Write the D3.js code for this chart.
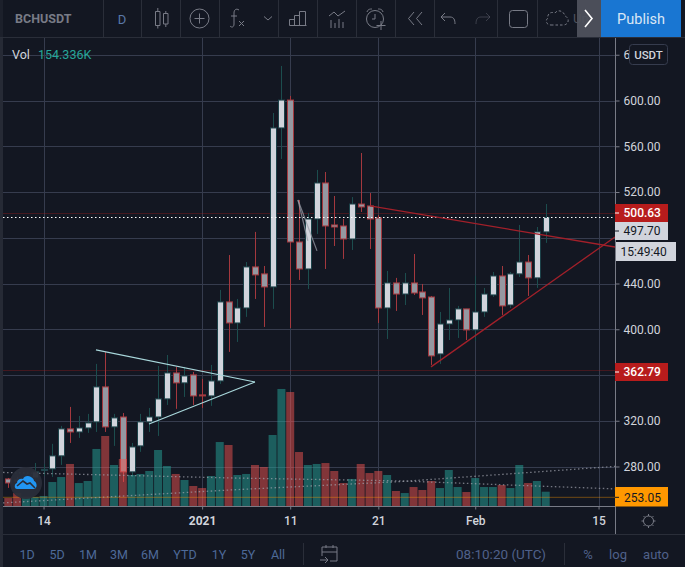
<!DOCTYPE html>
<html><head><meta charset="utf-8">
<script src="https://cdn.jsdelivr.net/npm/d3@7"></script>
<style>
html,body{margin:0;padding:0;background:#131722;overflow:hidden}
svg{display:block;font-family:Roboto,sans-serif}
</style></head><body>
<svg id="c" width="685" height="567"></svg>
<script>
const symbol="BCHUSDT", interval="D", startDate=Date.UTC(2020,11,10), dayMs=864e5;
const opens=[269.1,268.3,266.5,270.0,276.6,277.9,289.3,312.9,310.2,313.7,319.0,349.6,314.6,323.3,275.3,298.0,319.0,323.3,339.1,361.8,353.1,360.1,342.6,341.7,354.8,423.9,405.5,418.6,454.5,448.4,437.0,576.0,600.4,476.3,452.7,496.4,527.9,491.2,490.3,478.9,509.5,507.8,497.3,418.6,440.5,430.8,440.5,432.6,428.2,378.4,404.6,408.1,417.8,399.4,415.1,430.0,446.6,421.2,448.4,458.8,444.9,485.1];
const closes=[265.6,266.5,270.0,275.3,277.5,289.3,312.9,310.2,313.7,318.1,349.6,314.6,322.5,275.3,297.1,319.0,323.3,339.1,361.8,353.1,359.2,341.7,341.7,354.8,423.9,405.5,418.6,454.5,447.5,437.0,576.0,600.4,476.3,452.7,496.4,527.9,490.3,489.4,478.9,509.5,506.9,496.4,418.6,440.5,430.8,440.5,431.7,427.4,376.7,404.6,408.1,417.8,399.4,415.1,430.8,446.6,420.4,448.4,458.8,444.9,485.1,497.7];
const highs=[270.0,270.9,273.5,283.1,282.3,299.8,315.5,332.1,324.2,326.0,369.7,380.2,326.0,326.8,300.6,326.0,331.2,367.9,377.5,367.1,367.1,362.7,356.6,368.8,434.4,464.9,426.5,458.8,485.1,455.3,589.1,630.2,604.0,513.0,501.7,539.3,537.5,516.5,496.4,515.6,554.1,519.1,499.9,451.0,444.9,449.2,465.8,439.6,429.1,415.1,436.1,420.4,417.8,446.6,436.1,450.1,455.3,450.1,491.2,464.9,489.4,509.5];
const lows=[261.3,263.0,263.0,267.4,271.8,270.9,281.4,300.6,305.0,309.4,310.2,310.2,298.0,266.5,270.9,292.8,310.2,306.7,333.8,330.4,340.8,333.8,331.2,333.0,352.2,380.2,388.9,410.8,426.5,402.0,417.8,548.9,401.1,443.1,435.2,483.3,452.7,472.8,461.5,469.3,502.5,470.2,405.5,391.5,416.0,421.2,430.0,412.5,368.8,369.7,390.6,392.4,390.6,389.8,410.8,428.2,412.5,418.6,445.7,429.1,436.1,475.5];
const volumes=[86,140,97,97,108,259,313,454,248,270,616,756,443,508,335,346,378,605,432,346,281,216,194,324,691,659,335,346,443,421,767,1264,1231,583,443,454,464,378,248,292,454,356,378,335,162,140,205,173,270,194,389,205,151,302,205,205,227,194,443,248,270,154.336];
const priceTicks=[640,600,560,520,480,440,400,360,320,280];
const dateTicks=[[4,"14"],[22,"2021"],[32,"11"],[42,"21"],[53,"Feb"],[67,"15"]];
const whiteLines=[[[9.95,381.9],[28,353.9]],[[15.97,317.2],[28,353.9]]];
const grayLines=[[[32.88,513.0],[35.04,468.5]],[[32.88,513.0],[34.0,477.2]]];
const redLines=[[[41.06,507.8],[68.87,471.9]],[[47.98,367.1],[68.87,480.7]]];
const dottedLines=[[[-0.6,274.8],[25.2,270.0],[44.46,267.4],[68.87,260.4]],[[-0.6,248.2],[25.2,259.5],[44.46,266.8],[68.87,280.1]]];
const highLine=500.63,lastPrice=497.70,lowLine=362.79,minLine=253.05;
const rangeButtons=[["1D",27],["5D",57],["1M",88],["3M",119],["6M",150],["YTD",185],["1Y",219],["5Y",248],["All",278]];

const BG="#131722",GRID="#363c4e",SEP="#2a2e39",AX="#787b86",TXT="#d1d4dc";
const svg=d3.select("#c");
const idxDate=i=>new Date(startDate+i*dayMs);
const x=d3.scaleUtc().domain([idxDate(0),idxDate(61)]).range([8.3,545.7]);
const xi=i=>x(idxDate(i));
const y=d3.scaleLinear().domain([600,280]).range([100.5,466.5]);
const v=d3.scaleLinear().domain([0,1300]).range([506,506-1300/10.8]);
const lineGen=d3.line().x(d=>xi(d[0])).y(d=>y(d[1]));

svg.append("rect").attr("width",685).attr("height",567).attr("fill",BG);
svg.append("defs").append("clipPath").attr("id","pane").append("rect").attr("x",3).attr("y",38).attr("width",612).attr("height",468);
const pane=svg.append("g").attr("clip-path","url(#pane)");

// grid
pane.selectAll(".gy").data(priceTicks).join("line").attr("x1",3).attr("x2",615)
 .attr("y1",d=>Math.round(y(d))+.5).attr("y2",d=>Math.round(y(d))+.5).attr("stroke",GRID);
pane.selectAll(".gx").data(dateTicks).join("line").attr("y1",38).attr("y2",506)
 .attr("x1",d=>Math.round(xi(d[0]))+.5).attr("x2",d=>Math.round(xi(d[0]))+.5).attr("stroke",GRID);

// price level lines
pane.selectAll(".lv").data([highLine,lowLine]).join("line").attr("x1",3).attr("x2",615)
 .attr("y1",d=>Math.floor(y(d))-.5).attr("y2",d=>Math.floor(y(d))-.5).attr("stroke","#b71c1c").attr("stroke-opacity",.3);

// candles
const idx=d3.range(opens.length);
const isUp=i=>closes[i]>=opens[i];
const BW=6;
const cg=pane.append("g");
cg.selectAll("line").data(idx).join("line")
 .attr("x1",i=>Math.round(xi(i))+.5).attr("x2",i=>Math.round(xi(i))+.5)
 .attr("y1",i=>y(highs[i])).attr("y2",i=>y(lows[i]))
 .attr("stroke",i=>isUp(i)?"#1c4d4e":"#a4383e");
cg.selectAll("rect").data(idx).join("rect")
 .attr("x",i=>Math.round(xi(i))+.5-BW/2).attr("width",BW)
 .attr("y",i=>y(Math.max(opens[i],closes[i])))
 .attr("height",i=>Math.max(1,Math.abs(y(opens[i])-y(closes[i]))))
 .attr("fill",i=>isUp(i)?"#d1d4dc":"#9598a1")
 .attr("stroke",i=>isUp(i)?"#1c4249":"#a4383e").attr("stroke-width",1);

// volume
pane.append("g").selectAll("rect").data(idx).join("rect")
 .attr("x",i=>xi(i)-4).attr("width",8)
 .attr("y",i=>v(volumes[i])).attr("height",i=>v(0)-v(volumes[i]))
 .attr("fill",i=>isUp(i)?"#26a69a":"#ef5350").attr("fill-opacity",.5);

pane.append("line").attr("x1",3).attr("x2",615).attr("y1",y(minLine)).attr("y2",y(minLine)).attr("stroke","#ff9800").attr("stroke-opacity",.4);

// dotted
pane.selectAll(".dot").data(dottedLines).join("path").attr("d",lineGen).attr("fill","none")
 .attr("stroke","#9fa3ad").attr("stroke-opacity",.7).attr("stroke-width",1.3).attr("stroke-dasharray","1.5 2.5");
pane.append("line").attr("x1",3).attr("x2",615).attr("y1",y(lastPrice)).attr("y2",y(lastPrice))
 .attr("stroke","#fff").attr("stroke-width",1).attr("stroke-dasharray","1.5 2.5");

// drawings
pane.selectAll(".wl").data(whiteLines).join("path").attr("d",lineGen).attr("fill","none").attr("stroke","#a9d8dc").attr("stroke-width",1.2);
pane.selectAll(".gl").data(grayLines).join("path").attr("d",lineGen).attr("fill","none").attr("stroke","#9a9ea8").attr("stroke-width",1.2).attr("stroke-opacity",.75);
pane.selectAll(".rl").data(redLines).join("path").attr("d",lineGen).attr("fill","none").attr("stroke","#a3202a").attr("stroke-width",1.3);

// x axis
svg.append("line").attr("x1",3).attr("x2",615).attr("y1",506.5).attr("y2",506.5).attr("stroke",AX);
const xAxis=d3.axisBottom(x).tickValues(dateTicks.map(d=>idxDate(d[0]))).tickSize(3).tickPadding(7)
 .tickFormat((d,i)=>dateTicks[i][1]);
const gx=svg.append("g").attr("transform","translate(0,506.5)").call(xAxis);
gx.select(".domain").remove();
gx.selectAll("line").attr("stroke",AX);
gx.selectAll("text").attr("fill",TXT).attr("font-size",12).attr("font-family","Roboto,sans-serif")
 .attr("font-weight",(d,i)=>dateTicks[i][1]==="2021"?700:500);

// y axis: 640 is cut to "6" by the USDT box, 480 and 360 sit behind the price tags
svg.append("line").attr("x1",615.5).attr("x2",615.5).attr("y1",38).attr("y2",534).attr("stroke",AX);
const yAxis=d3.axisRight(y).tickValues(priceTicks).tickSize(4).tickPadding(4)
 .tickFormat(d=>d===640?"6":(d===480||d===360)?"":d.toFixed(2));
const gy=svg.append("g").attr("transform","translate(615.5,0)").call(yAxis);
gy.select(".domain").remove();
gy.selectAll("line").attr("stroke",AX);
gy.selectAll("text").attr("fill",TXT).attr("font-size",12).attr("font-family","Roboto,sans-serif");

// USDT box
svg.append("rect").attr("x",629.5).attr("y",44.5).attr("width",38).attr("height",20).attr("rx",3).attr("fill",BG).attr("stroke","#363c4e");
svg.append("text").attr("x",648.5).attr("y",58.5).attr("text-anchor","middle").attr("fill",TXT).attr("font-size",11.5).attr("font-weight",500).text("USDT");

// price labels
function tag(val,cy,fill,color,w,tickY){
 svg.append("rect").attr("x",615).attr("y",cy-9).attr("width",w||53).attr("height",18).attr("fill",fill);
 svg.append("line").attr("x1",615).attr("x2",619).attr("y1",tickY).attr("y2",tickY).attr("stroke",color);
 svg.append("text").attr("x",623.5).attr("y",cy+4.3).attr("fill",color).attr("font-size",12).attr("font-weight",color==="#fff"?500:400).text(val);
}
tag(lastPrice.toFixed(2),231,"#d1d4dc","#131722",53,231);
tag(highLine.toFixed(2),213,"#b71c1c","#fff",53,213);
tag(lowLine.toFixed(2),372,"#b71c1c","#fff",53,372);
svg.append("rect").attr("x",615).attr("y",487).attr("width",53).attr("height",19.5).attr("fill","#ff9800");
svg.append("line").attr("x1",615).attr("x2",619).attr("y1",y(minLine)).attr("y2",y(minLine)).attr("stroke","#131722");
svg.append("text").attr("x",624).attr("y",501.5).attr("fill","#131722").attr("font-size",12).text(minLine.toFixed(2));
svg.append("rect").attr("x",616).attr("y",242).attr("width",60).attr("height",19).attr("fill","#d1d4dc");
svg.append("text").attr("x",620.5).attr("y",256).attr("fill","#131722").attr("font-size",12).text("15:49:40");

// legend
svg.append("text").attr("x",12).attr("y",58.5).attr("fill",TXT).attr("font-size",12.5).text("Vol");
svg.append("text").attr("x",38).attr("y",58.5).attr("fill","#26a69a").attr("font-size",12.5).text(d3.format(".3f")(volumes[61])+"K");

// logo
const lg=svg.append("g");
lg.append("circle").attr("cx",26).attr("cy",483).attr("r",16).attr("fill","#2a2e39").attr("fill-opacity",.96);
lg.append("path").attr("d","M17 489c-3 0-3-5 0-6 0-3 3-5 6-4 1-3 5-4 8-2 2 1 3 3 3 4 3 1 4 7 0 8z").attr("fill","#2196f3");
lg.append("path").attr("d","M17 486l6-5 4 3 3-1 5 5").attr("fill","none").attr("stroke","#2a2e39").attr("stroke-width",1.6);

// gear
const ge=svg.append("g").attr("transform","translate(648.5,521)").attr("fill","none").attr("stroke",AX);
ge.append("circle").attr("r",5);
d3.range(8).forEach(k=>{const a=k*Math.PI/4;ge.append("line").attr("x1",5*Math.cos(a)).attr("y1",5*Math.sin(a)).attr("x2",7*Math.cos(a)).attr("y2",7*Math.sin(a));});

// bottom bar
svg.append("line").attr("x1",3).attr("x2",685).attr("y1",534.5).attr("y2",534.5).attr("stroke",SEP);
svg.selectAll(".rb").data(rangeButtons).join("text").attr("x",d=>d[1]).attr("y",558.5).attr("text-anchor","middle")
 .attr("fill","#4e6a99").attr("font-size",12.5).text(d=>d[0]);
svg.append("line").attr("x1",303.5).attr("x2",303.5).attr("y1",543).attr("y2",565).attr("stroke",SEP);
const cal=svg.append("g").attr("fill","none").attr("stroke",AX);
cal.append("path").attr("d","M322 556v-9h15v14h-7M322 552h15M326 545v3M333 545v3M320 560h7M325 557l3 3-3 3");
svg.append("text").attr("x",501).attr("y",558.5).attr("text-anchor","middle").attr("fill","#50618a").attr("font-size",13.5).text("08:10:20 (UTC)");
svg.append("line").attr("x1",564.5).attr("x2",564.5).attr("y1",543).attr("y2",565).attr("stroke",SEP);
[["%",588],["log",618],["auto",656]].forEach(d=>svg.append("text").attr("x",d[1]).attr("y",558.5).attr("text-anchor","middle").attr("fill","#50618a").attr("font-size",13).text(d[0]));

// left strip
svg.append("rect").attr("width",3).attr("height",567).attr("fill","#262a35");

// toolbar
svg.append("rect").attr("width",685).attr("height",37).attr("fill",BG);
svg.append("rect").attr("width",3).attr("height",37).attr("fill","#1c202b");
svg.append("line").attr("x1",0).attr("x2",685).attr("y1",37.5).attr("y2",37.5).attr("stroke",SEP);
[103.5,141.5,180.5,219.5,278.5,317.5,356.5,395.5,434.5,497.5,537.5].forEach(s=>svg.append("line").attr("x1",s).attr("x2",s).attr("y1",0).attr("y2",37).attr("stroke",SEP));
svg.append("text").attr("x",15).attr("y",23).attr("fill",AX).attr("font-size",12.5).attr("font-weight",700).text(symbol);
svg.append("text").attr("x",122).attr("y",23.5).attr("text-anchor","middle").attr("fill","#5a78a8").attr("font-size",13).text(interval);
const ic=svg.append("g").attr("fill","none").attr("stroke",AX);
ic.append("path").attr("d","M155.5 11.5h4.5v14h-4.5zM157.8 8v3.5M157.8 25.5v3M163.5 13.5h4.5v10.5h-4.5zM165.8 11v2.5M165.8 24v3");
ic.append("circle").attr("cx",199.5).attr("cy",18.5).attr("r",9.5);
ic.append("path").attr("d","M194.5 18.5h10M199.5 13.5v10");
ic.append("path").attr("d","M239 10c-3-2-5 0-5 3v11c0 3-2 4-4 2M231 16h6M239 21l5 5M244 21l-5 5");
ic.append("path").attr("d","M264 16.5l4 3.5 4-3.5");
ic.append("path").attr("d","M289.5 25.5h17M289.5 25.5v-6h5v6M294.5 25.5v-10h5v10M299.5 25.5v-14h6v14");
ic.append("path").attr("d","M329 16l5-4 4 4 7-5M331 28v-8M335 28v-5M339 28v-9M343 28v-6");
ic.append("circle").attr("cx",375).attr("cy",19).attr("r",8.5);
ic.append("path").attr("d","M375 14v5h-3M367 12c1-3 3-3 5-3M378 9c2 0 4 0 5 3M381 21v9M376.5 25.5h9");
ic.append("path").attr("d","M414 12l-5.5 6.5 5.5 6.5M422 12l-5.5 6.5 5.5 6.5");
ic.append("path").attr("d","M445 13l-4 4 4 4M441 17h9c4 0 5 3 5 7");
ic.append("path").attr("d","M486 13l4 4-4 4M490 17h-9c-4 0-5 3-5 7").attr("stroke-opacity",.4);
ic.append("rect").attr("x",509.5).attr("y",10.5).attr("width",18).attr("height",17).attr("rx",3);
ic.append("path").attr("d","M551 25h12c6 0 7-7 2-9-1-5-7-7-10-3-5-2-8 2-7 5-3 2-2 7 3 7z").attr("stroke-dasharray","2.5 2");
svg.append("text").attr("x",573).attr("y",23).attr("fill",AX).attr("fill-opacity",.6).attr("font-size",13).text("Un");
svg.append("rect").attr("x",577).attr("width",24).attr("height",37).attr("fill","#50535e").attr("fill-opacity",.93);
svg.append("path").attr("d","M585 10l7 8.5-7 8.5").attr("fill","none").attr("stroke","#fff").attr("stroke-width",1.6);
svg.append("rect").attr("x",601).attr("width",80).attr("height",37).attr("fill","#1976d2");
svg.append("text").attr("x",641).attr("y",23.5).attr("text-anchor","middle").attr("fill","#d9e6f5").attr("font-size",14.5).text("Publish");
</script></body></html>
